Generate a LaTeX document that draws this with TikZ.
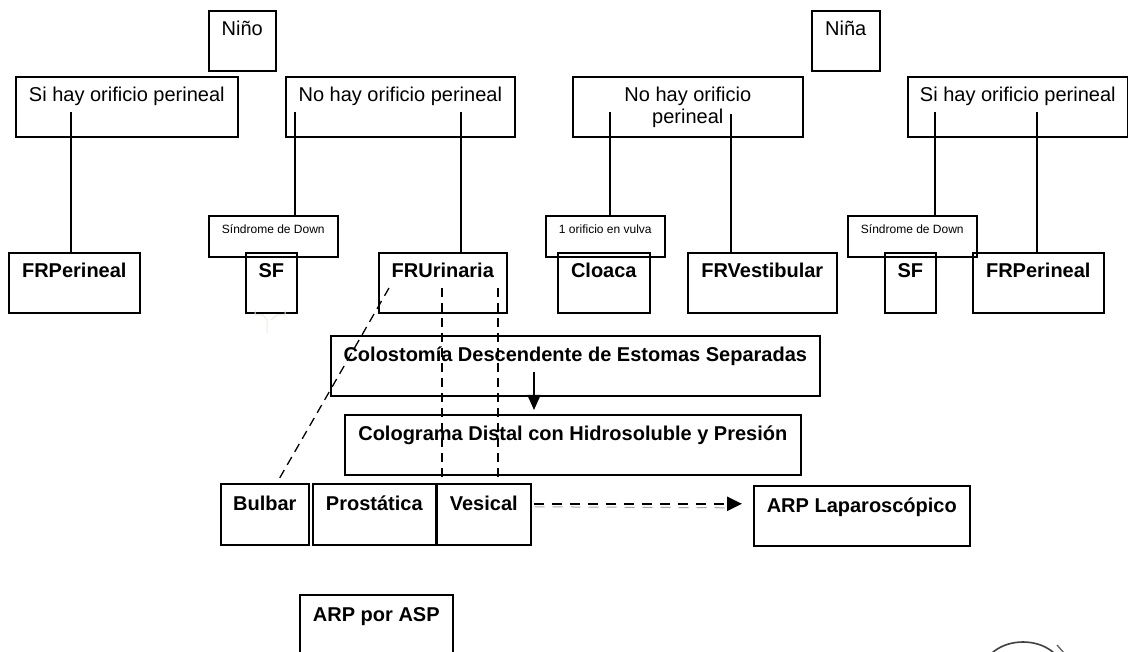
\documentclass[tikz,border=0pt]{standalone}
\usepackage{fontspec}
\setmainfont{Liberation Sans}
\usetikzlibrary{arrows.meta,calc}
\begin{document}
\begin{tikzpicture}[x=1pt,y=-1pt,
  bx/.style={draw, line width=1.6pt, inner sep=0pt, anchor=north west},
  tn/.style={font=\fontsize{20}{22}\selectfont, inner sep=0pt, anchor=base},
  tbold/.style={font=\fontsize{20}{22}\selectfont\bfseries, inner sep=0pt, anchor=base},
  tsmall/.style={font=\fontsize{12}{14}\selectfont, inner sep=0pt, anchor=base},
  conn/.style={line width=1.6pt},
  dconn/.style={line width=1.3pt, dash pattern=on 9pt off 6pt},
  faint/.style={draw={rgb,255:red,236;green,234;blue,224}, line width=1pt},
]
\useasboundingbox (0,0) rectangle (1128,652);

% ---------- Niño branch ----------
\node[bx, minimum width=67pt, minimum height=60pt] (nino) at (208,10) {};
\node[tn] (nino-t) at ([yshift=-26pt]nino.north) {Niño};

\node[bx, minimum width=222pt, minimum height=60pt] (sih1) at (15,76) {};
\node[tn] (sih1-t) at ([yshift=-26pt]sih1.north) {Si hay orificio perineal};

\node[bx, minimum width=229pt, minimum height=60pt] (noh1) at (285,76) {};
\node[tn] (noh1-t) at ([yshift=-26pt]noh1.north) {No hay orificio perineal};

\node[bx, minimum width=131pt, minimum height=60pt] (frp1) at (8,252) {};
\node[tbold] (frp1-t) at ([yshift=-26pt]frp1.north) {FRPerineal};

\node[bx, minimum width=129pt, minimum height=41pt] (sdd1) at (208,215) {};
\node[tsmall] (sdd1-t) at ([yshift=-18.5pt]sdd1.north) {Síndrome de Down};

\node[bx, minimum width=51pt, minimum height=60pt] (sf1) at (245,252) {};
\node[tbold] (sf1-t) at ([yshift=-26pt]sf1.north) {SF};

\node[bx, minimum width=128pt, minimum height=60pt] (fru) at (378,252) {};
\node[tbold] (fru-t) at ([yshift=-26pt]fru.north) {FRUrinaria};

% ---------- Niña branch ----------
\node[bx, minimum width=68pt, minimum height=60pt] (nina) at (811,10) {};
\node[tn] (nina-t) at ([yshift=-26pt]nina.north) {Niña};

\node[bx, minimum width=230pt, minimum height=60pt] (noh2) at (572,76) {};
\node[tn] (noh2-t1) at ([yshift=-26pt]noh2.north) {No hay orificio};
\node[tn] (noh2-t2) at ([yshift=-48pt]noh2.north) {perineal};

\node[bx, minimum width=119pt, minimum height=41pt] (orif) at (545,215) {};
\node[tsmall] (orif-t) at ([yshift=-18.5pt]orif.north) {1 orificio en vulva};

\node[bx, minimum width=92pt, minimum height=60pt] (cloaca) at (557,252) {};
\node[tbold] (cloaca-t) at ([yshift=-26pt]cloaca.north) {Cloaca};

\node[bx, minimum width=149pt, minimum height=60pt] (frv) at (687,252) {};
\node[tbold] (frv-t) at ([yshift=-26pt]frv.north) {FRVestibular};

\node[bx, minimum width=220pt, minimum height=60pt] (sih2) at (907,76) {};
\node[tn] (sih2-t) at ([yshift=-26pt]sih2.north) {Si hay orificio perineal};

\node[bx, minimum width=129pt, minimum height=41pt] (sdd2) at (847,215) {};
\node[tsmall] (sdd2-t) at ([yshift=-18.5pt]sdd2.north) {Síndrome de Down};

\node[bx, minimum width=51pt, minimum height=60pt] (sf2) at (884,252) {};
\node[tbold] (sf2-t) at ([yshift=-26pt]sf2.north) {SF};

\node[bx, minimum width=131pt, minimum height=60pt] (frp2) at (972,252) {};
\node[tbold] (frp2-t) at ([yshift=-26pt]frp2.north) {FRPerineal};

% ---------- procedures ----------
\node[bx, minimum width=489pt, minimum height=60pt] (colo) at (330,335) {};
\node[tbold] (colo-t) at ([yshift=-27pt]colo.north) {Colostomía Descendente de Estomas Separadas};

\node[bx, minimum width=456pt, minimum height=60pt] (cgram) at (344,414) {};
\node[tbold] (cgram-t) at ([yshift=-27pt]cgram.north) {Colograma Distal con Hidrosoluble y Presión};

\node[bx, minimum width=88pt, minimum height=61pt] (bulbar) at (220,483) {};
\node[tbold] (bulbar-t) at ([yshift=-27pt]bulbar.north) {Bulbar};

\node[bx, minimum width=123pt, minimum height=61pt] (prost) at (312,483) {};
\node[tbold] (prost-t) at ([yshift=-27pt]prost.north) {Prostática};

\node[bx, minimum width=94pt, minimum height=61pt] (vesical) at (436,483) {};
\node[tbold] (vesical-t) at ([yshift=-27pt]vesical.north) {Vesical};

\node[bx, minimum width=216pt, minimum height=60pt] (arplap) at (753,485) {};
\node[tbold] (arplap-t) at ([yshift=-27pt]arplap.north) {ARP Laparoscópico};

\begin{scope}
\clip (0,0) rectangle (1128,652);
\node[bx, minimum width=153pt, minimum height=64pt] (arpasp) at (299,594) {};
\node[tbold] (arpasp-t) at ([yshift=-27pt]arpasp.north) {ARP por ASP};
\draw[black!75, line width=1.6pt] (1023,672) ellipse [x radius=40pt, y radius=30pt];
\draw[black!60, line width=1.4pt] (1057,645) -- (1064,653);
\end{scope}

% ---------- solid connectors ----------
\coordinate (c1) at (71,112);
\coordinate (c2) at (295,112);
\coordinate (c3) at (461,112);
\coordinate (c4) at (610,112);
\coordinate (c5) at (731,114);
\coordinate (c6) at (935,112);
\coordinate (c7) at (1037,112);
\draw[conn] (c1) -- (c1 |- frp1.north);
\draw[conn] (c2) -- (c2 |- sdd1.north);
\draw[conn] (c3) -- (c3 |- fru.north);
\draw[conn] (c4) -- (c4 |- orif.north);
\draw[conn] (c5) -- (c5 |- frv.north);
\draw[conn] (c6) -- (c6 |- sdd2.north);
\draw[conn] (c7) -- (c7 |- frp2.north);

% ---------- dashed connectors ----------
\coordinate (d0) at (389,288);
\coordinate (d1) at (442,288);
\coordinate (d2) at (498,288);
\draw[dconn] (d0) -- ([xshift=12pt]bulbar.north);
\draw[dconn] (d1) -- (d1 |- vesical.north);
\draw[dconn] (d2) -- (d2 |- vesical.north);

% vertical arrow
\coordinate (va) at (534,372);
\draw[conn, -{Triangle[length=15pt,width=13pt]}, shorten >=4pt] (va) -- (va |- cgram.north);

% dashed horizontal arrow with faint shadow
\draw[black!35, line width=1pt, dash pattern=on 10pt off 8pt]
  ([xshift=3pt,yshift=7.5pt]vesical.east) -- ([xshift=-24pt,yshift=8pt]arplap.west);
\draw[line width=2.5pt, dash pattern=on 10pt off 8pt, -{Triangle[length=15pt,width=14pt]}]
  ([xshift=2pt,yshift=10.5pt]vesical.east) -- ([xshift=-11pt,yshift=12pt]arplap.west);

% faint artefact below SF
\draw[faint] (255,310) -- (255,315) -- (263,315) -- (267,320) -- (267,333);
\draw[faint] (285,310) -- (285,315) -- (277,315) -- (271,320);
\end{tikzpicture}
\end{document}
